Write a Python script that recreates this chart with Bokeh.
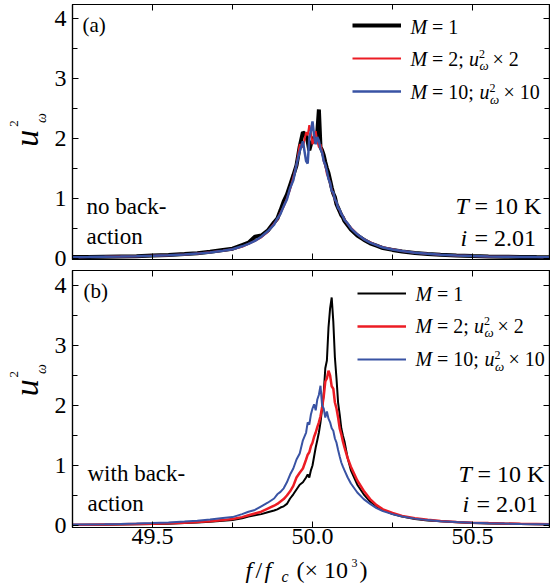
import math
from bokeh.plotting import figure
from bokeh.models import (Range1d, LinearAxis, Label, Legend, LegendItem,
                          FixedTicker, PrintfTickFormatter)
from bokeh.layouts import column, row
from bokeh.embed import file_html
from bokeh.resources import INLINE

FONT = "Liberation Serif"
BLACK = "#000000"
RED = "#ec1c24"
BLUE = "#3953a4"

# ---------------- data ----------------
freq = [49.25, 49.30, 49.35, 49.40, 49.45, 49.50, 49.55, 49.60, 49.64, 49.68,
        49.72, 49.75, 49.78, 49.80, 49.82, 49.84, 49.86, 49.88,
        49.89, 49.90, 49.91, 49.92, 49.93, 49.94, 49.95, 49.96, 49.97, 49.98,
        49.985, 49.99, 49.995, 50.00, 50.005, 50.01, 50.015, 50.02, 50.025, 50.03,
        50.035, 50.04, 50.045, 50.05, 50.055, 50.06, 50.065, 50.07, 50.075, 50.08,
        50.085, 50.09, 50.095, 50.10,
        50.11, 50.12,
        50.14, 50.16, 50.18, 50.20, 50.22, 50.25, 50.28, 50.32, 50.36, 50.40,
        50.45, 50.50, 50.55, 50.60, 50.65, 50.70, 50.75]

# panel (a): no back-action
a_m1 = [0.020, 0.020, 0.025, 0.030, 0.035, 0.045, 0.055, 0.070, 0.085, 0.110,
        0.140, 0.160, 0.220, 0.260, 0.360, 0.380, 0.460, 0.600,
        0.66, 0.80, 0.95, 1.06, 1.22, 1.38, 1.55, 1.86, 2.10, 2.06,
        1.95, 1.80, 1.90, 1.96, 2.02, 1.92, 2.10, 2.48, 1.85, 1.80,
        1.72, 1.60, 1.50, 1.42, 1.30, 1.18, 1.08, 1.02, 0.90, 0.84,
        0.78, 0.72, 0.68, 0.62,
        0.55, 0.48,
        0.38, 0.31, 0.25, 0.21, 0.17, 0.14, 0.115, 0.090, 0.072, 0.058,
        0.047, 0.038, 0.032, 0.027, 0.023, 0.020, 0.018]
a_m2 = [0.018, 0.021, 0.024, 0.029, 0.034, 0.042, 0.050, 0.065, 0.080, 0.100,
        0.125, 0.150, 0.190, 0.240, 0.290, 0.350, 0.440, 0.580,
        0.64, 0.76, 0.86, 1.00, 1.15, 1.35, 1.55, 1.90, 1.85, 2.10,
        2.05, 2.22, 2.10, 1.90, 2.00, 2.12, 1.95, 1.85, 1.90, 1.78,
        1.62, 1.55, 1.40, 1.34, 1.25, 1.14, 1.08, 0.98, 0.93, 0.85,
        0.80, 0.74, 0.70, 0.65,
        0.57, 0.51,
        0.40, 0.32, 0.27, 0.22, 0.185, 0.150, 0.120, 0.093, 0.075, 0.060,
        0.048, 0.039, 0.032, 0.027, 0.023, 0.020, 0.018]
a_m10 = [0.018, 0.020, 0.024, 0.028, 0.034, 0.041, 0.050, 0.063, 0.078, 0.098,
         0.127, 0.150, 0.200, 0.240, 0.290, 0.360, 0.450, 0.560,
         0.66, 0.74, 0.87, 0.98, 1.17, 1.30, 1.56, 1.78, 1.95, 1.62,
         1.58, 2.00, 2.12, 2.28, 2.05, 1.90, 2.02, 1.96, 1.82, 1.76,
         1.62, 1.56, 1.45, 1.32, 1.26, 1.12, 1.10, 0.98, 0.94, 0.84,
         0.81, 0.74, 0.70, 0.64,
         0.58, 0.50,
         0.40, 0.32, 0.26, 0.22, 0.18, 0.146, 0.120, 0.092, 0.074, 0.060,
         0.048, 0.039, 0.032, 0.027, 0.023, 0.020, 0.018]

# panel (b): with back-action
b_m1 = [0.010, 0.012, 0.014, 0.017, 0.020, 0.025, 0.030, 0.040, 0.050, 0.062,
        0.080, 0.090, 0.120, 0.150, 0.170, 0.190, 0.220, 0.250,
        0.27, 0.30, 0.32, 0.36, 0.45, 0.52, 0.60, 0.68, 0.72, 0.80,
        0.85, 0.80, 0.92, 1.00, 1.15, 1.30, 1.42, 1.55, 1.72, 1.95,
        2.20, 2.62, 2.75, 3.30, 3.62, 3.80, 3.40, 2.80, 2.45, 2.05,
        1.85, 1.62, 1.50, 1.40,
        1.12, 0.92,
        0.68, 0.52, 0.40, 0.32, 0.26, 0.19, 0.15, 0.11, 0.085, 0.070,
        0.055, 0.043, 0.035, 0.030, 0.025, 0.021, 0.018]
b_m2 = [0.012, 0.014, 0.017, 0.020, 0.025, 0.030, 0.037, 0.047, 0.057, 0.070,
        0.090, 0.110, 0.140, 0.170, 0.200, 0.230, 0.280, 0.330,
        0.36, 0.40, 0.44, 0.50, 0.57, 0.66, 0.80, 0.88, 0.95, 1.10,
        1.18, 1.22, 1.32, 1.38, 1.48, 1.55, 1.64, 1.72, 1.82, 1.97,
        2.15, 2.40, 2.45, 2.58, 2.50, 2.32, 2.28, 2.05, 1.95, 1.80,
        1.62, 1.52, 1.40, 1.30,
        1.12, 0.98,
        0.75, 0.58, 0.44, 0.34, 0.27, 0.21, 0.16, 0.12, 0.095, 0.077,
        0.060, 0.048, 0.040, 0.033, 0.028, 0.024, 0.020]
b_m10 = [0.015, 0.018, 0.022, 0.027, 0.033, 0.042, 0.052, 0.065, 0.080, 0.100,
         0.125, 0.140, 0.190, 0.230, 0.260, 0.320, 0.380, 0.450,
         0.52, 0.56, 0.62, 0.72, 0.85, 0.95, 1.10, 1.20, 1.42, 1.55,
         1.72, 1.68, 1.85, 1.95, 2.02, 1.92, 2.10, 2.18, 2.33, 2.00,
         1.95, 1.80, 1.90, 1.78, 1.72, 1.62, 1.58, 1.45, 1.38, 1.26,
         1.15, 1.05, 0.98, 0.92,
         0.80, 0.70,
         0.55, 0.44, 0.36, 0.29, 0.24, 0.19, 0.15, 0.115, 0.090, 0.073,
         0.058, 0.046, 0.038, 0.032, 0.027, 0.023, 0.020]

x_major = [49.5, 50.0, 50.5]
x_minor = [49.25, 49.75, 50.25, 50.75]
y_major = [0, 1, 2, 3, 4]
y_minor = [0.5, 1.5, 2.5, 3.5]

# ---------------- layout geometry (page pixels) ----------------
STRIP_W = 50          # left strip holding the y-axis titles
A_H = 267             # row (a): page y 0..267, frame 4..259
B_TOP = 267           # row (b): frame 270..527
B_H = 3 + 257 + 28
X_TOP = B_TOP + B_H   # x-title strip below
X_H = 586 - X_TOP

X0 = 49.25
X1 = 49.25 + 477 / 320.0
xr = Range1d(X0, X1)

# Bokeh places "alphabetic" Labels slightly low; compensate (fraction of size)
BASE_FIX = 0.32


def xd(px):
    return X0 + (px - 72) / 320.0


def make_fig(height, top, bottom, y0, y1, bottom_labels):
    p = figure(width=550 - STRIP_W, height=height, x_range=xr,
               y_range=Range1d(y0, y1),
               output_backend="svg", toolbar_location=None,
               x_axis_location=None, y_axis_location=None,
               min_border_left=72 - STRIP_W, min_border_right=1,
               min_border_top=top, min_border_bottom=bottom)
    p.grid.visible = False
    p.outline_line_color = "black"
    p.outline_line_width = 1.2
    xt = FixedTicker(ticks=x_major, minor_ticks=x_minor)
    yt = FixedTicker(ticks=y_major, minor_ticks=y_minor)
    for loc, tk, show in [("below", xt, bottom_labels), ("above", xt, False),
                          ("left", yt, True), ("right", yt, False)]:
        ax = LinearAxis(ticker=tk)
        ax.axis_line_color = "black"
        ax.axis_line_width = 1.2
        ax.major_tick_in = 6
        ax.major_tick_out = 0
        ax.minor_tick_in = 5
        ax.minor_tick_out = 0
        ax.major_tick_line_color = "black"
        ax.minor_tick_line_color = "black"
        if show:
            ax.major_label_text_font = FONT
            ax.major_label_text_font_size = "24px"
            ax.major_label_text_color = "black"
            if loc == "below":
                ax.major_label_standoff = 1
                ax.formatter = PrintfTickFormatter(format="%.1f")
            else:
                ax.major_label_standoff = 6
                ax.formatter = PrintfTickFormatter(format="%d")
        else:
            ax.major_label_text_font_size = "1px"
            ax.major_label_text_color = None
            ax.major_label_standoff = 0
        p.add_layout(ax, loc)
    return p


def make_strip(width, height):
    s = figure(width=width, height=height, x_range=Range1d(0, width),
               y_range=Range1d(0, height), output_backend="svg",
               toolbar_location=None, x_axis_location=None,
               y_axis_location=None, min_border=0)
    s.min_border_left = 0
    s.min_border_right = 0
    s.min_border_top = 0
    s.min_border_bottom = 0
    s.grid.visible = False
    s.outline_line_color = None
    return s


def lab(p, fx, fy, px, py, text, size, italic=False, rotated=False):
    """Place text with its alphabetic baseline at page pixel (px, py)."""
    if rotated:
        px = px - BASE_FIX * size
    else:
        py = py - BASE_FIX * size
    p.add_layout(Label(x=fx(px), y=fy(py), text=text, text_font=FONT,
                       text_font_size="%dpx" % size,
                       text_font_style="italic" if italic else "normal",
                       text_color="black", text_align="left",
                       text_baseline="alphabetic",
                       angle=math.pi / 2 if rotated else 0.0))


def scripted_legend_text(p, fy, x0, base):
    r1, r2, r3 = base
    lab(p, xd, fy, x0, r1, "M", 20, True)
    lab(p, xd, fy, x0 + 21.5, r1, "= 1", 20)
    lab(p, xd, fy, x0, r2, "M", 20, True)
    lab(p, xd, fy, x0 + 21.5, r2, "= 2;", 20)
    lab(p, xd, fy, x0 + 58.5, r2, "u", 20, True)
    lab(p, xd, fy, x0 + 68.5, r2 - 7, "2", 12)
    lab(p, xd, fy, x0 + 69, r2 + 5, "\u03c9", 13, True)
    lab(p, xd, fy, x0 + 82, r2, "\u00d7 2", 20)
    lab(p, xd, fy, x0, r3, "M", 20, True)
    lab(p, xd, fy, x0 + 21.5, r3, "= 10;", 20)
    lab(p, xd, fy, x0 + 69, r3, "u", 20, True)
    lab(p, xd, fy, x0 + 79, r3 - 7, "2", 12)
    lab(p, xd, fy, x0 + 79.5, r3 + 5, "\u03c9", 13, True)
    lab(p, xd, fy, x0 + 93, r3, "\u00d7 10", 20)


def ylabel(s, fy, ystart):
    # rotated u^2_omega (reading upwards); ystart = page y where "u" begins
    ident = lambda v: v
    lab(s, ident, fy, 37, ystart, "u", 34, True, True)
    lab(s, ident, fy, 18, ystart - 21, "2", 13, False, True)
    lab(s, ident, fy, 45, ystart - 25, "\u03c9", 14, True, True)


def add_legend(p, renderers, vx, vy):
    items = [LegendItem(label=" ", renderers=[r]) for r in renderers]
    lg = Legend(items=items, location=(vx, vy), glyph_width=49, glyph_height=20,
                label_height=20, label_width=1, label_standoff=0, spacing=13,
                padding=0, margin=0, border_line_alpha=0,
                background_fill_alpha=0, label_text_font_size="1px")
    p.add_layout(lg, "center")


# ---------------- panel (a) ----------------
pa = make_fig(A_H, 4, 8, -0.02, 4.23, False)


def ya(py):
    return -0.02 + (259 - py) / 60.0


ra1 = pa.line(freq, a_m1, line_color=BLACK, line_width=4)
ra2 = pa.line(freq, a_m2, line_color=RED, line_width=2)
ra3 = pa.line(freq, a_m10, line_color=BLUE, line_width=2.5)
add_legend(pa, [ra1, ra2, ra3], 280, 158)
scripted_legend_text(pa, ya, 410, (32.5, 64.5, 98))
lab(pa, xd, ya, 82, 31, "(a)", 21)
lab(pa, xd, ya, 86, 213, "no back-", 23)
lab(pa, xd, ya, 86, 243, "action", 23)
lab(pa, xd, ya, 455, 213, "T", 24, True)
lab(pa, xd, ya, 474, 213, "= 10 K", 24)
lab(pa, xd, ya, 460, 245, "i", 24, True)
lab(pa, xd, ya, 474, 245, "= 2.01", 24)

sa = make_strip(STRIP_W, A_H)
ylabel(sa, lambda py: A_H - py, 149)

# ---------------- panel (b) ----------------
pb = make_fig(B_H, 3, B_H - 3 - 257, -0.033, 4.25, True)


def yb(py):
    return -0.033 + (527 - py) / 60.0


rb1 = pb.line(freq, b_m1, line_color=BLACK, line_width=2)
rb2 = pb.line(freq, b_m2, line_color=RED, line_width=2.5)
rb3 = pb.line(freq, b_m10, line_color=BLUE, line_width=2)
add_legend(pb, [rb1, rb2, rb3], 285, 158)
scripted_legend_text(pb, yb, 415, (299.5, 331.5, 365))
lab(pb, xd, yb, 83, 297, "(b)", 21)
lab(pb, xd, yb, 87, 480, "with back-", 23)
lab(pb, xd, yb, 87, 510, "action", 23)
lab(pb, xd, yb, 458, 481, "T", 24, True)
lab(pb, xd, yb, 477, 481, "= 10 K", 24)
lab(pb, xd, yb, 462, 511, "i", 24, True)
lab(pb, xd, yb, 476, 511, "= 2.01", 24)

sb = make_strip(STRIP_W, B_H)
ylabel(sb, lambda py: B_H - (py - B_TOP), 408)

# ---------------- x-axis title strip: f/f_c (x 10^3) ----------------
sx = make_strip(550, X_H)
ident_x = lambda v: v


def yx(py):
    return X_H - (py - X_TOP)


lab(sx, ident_x, yx, 245, 577, "f", 24, True)
lab(sx, ident_x, yx, 255, 577, "/", 24)
lab(sx, ident_x, yx, 264, 577, "f", 24, True)
lab(sx, ident_x, yx, 281, 581, "c", 16, True)
lab(sx, ident_x, yx, 296, 577, "(\u00d7 10", 24)
lab(sx, ident_x, yx, 351, 566, "3", 12)
lab(sx, ident_x, yx, 359, 577, ")", 24)

layout = column(row(sa, pa, spacing=0), row(sb, pb, spacing=0), sx, spacing=0)
open("out.html", "w").write(file_html(layout, INLINE))
